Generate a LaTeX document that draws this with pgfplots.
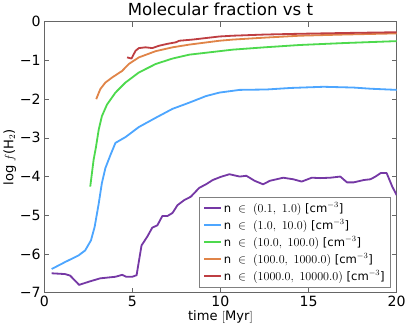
\documentclass[border=0pt]{standalone}
\usepackage{pgfplots}
\pgfplotsset{compat=1.18}
\usepackage{fontspec}
\setmainfont{DejaVu Sans}
\definecolor{cpur}{RGB}{117,56,165}
\definecolor{cblu}{RGB}{77,166,255}
\definecolor{cgrn}{RGB}{77,217,77}
\definecolor{cora}{RGB}{224,132,72}
\definecolor{cred}{RGB}{190,62,66}
\begin{document}
\begin{tikzpicture}
\begin{axis}[
  scale only axis, width=350pt, height=269pt,
  xmin=0, xmax=20, ymin=-7, ymax=0,
  xtick={0,5,10,15,20}, ytick={-7,-6,-5,-4,-3,-2,-1,0},
  yticklabels={−7,−6,−5,−4,−3,−2,−1,0},
  /pgf/number format/assume math mode=true,
  tick label style={font=\fontsize{14}{14}\selectfont},
  tick align=inside, tick pos=both,
  major tick length=5pt,
  axis line style={gray!80!black, line width=1pt},
  tick style={gray!80!black, line width=0.6pt},
  title={Molecular fraction vs t},
  title style={font=\fontsize{16.5}{17}\selectfont, yshift=-4pt},
  xlabel={time $[\mathrm{Myr}]$},
  ylabel={log $f$(H$_2$)},
  label style={font=\fontsize{13}{13}\selectfont},
  xlabel style={yshift=3pt},
  ylabel style={yshift=-3pt},
  legend style={at={(0.983,0.019)}, anchor=south east, draw=gray, line width=0.8pt,
     font=\fontsize{11.5}{13}\selectfont, row sep=2.8pt, inner sep=4pt,
     nodes={inner sep=1.5pt}},
  legend cell align=left,
  legend image code/.code={\draw[#1, line width=2pt] (0pt,0pt) -- (17pt,0pt);},
]
\addplot[cpur, line width=1.8pt, line join=round] coordinates {
(0.42,-6.50)(1.18,-6.52)(1.47,-6.56)(1.98,-6.80)(2.51,-6.72)(3.18,-6.63)(4.04,-6.59)
(4.42,-6.54)(4.65,-6.59)(4.99,-6.59)(5.24,-6.55)(5.52,-5.78)(5.85,-5.55)(6.13,-5.32)
(6.42,-5.26)(6.70,-5.02)(6.99,-5.02)(7.28,-4.94)(7.56,-4.74)(7.94,-4.61)(8.32,-4.52)
(8.80,-4.29)(9.18,-4.20)(9.56,-4.09)(10.0,-4.01)(10.51,-3.94)(11.09,-4.00)(11.47,-3.98)
(11.94,-4.11)(12.42,-4.20)(12.80,-4.11)(13.56,-4.03)(14.13,-4.07)(14.61,-4.13)(15.18,-4.03)
(15.66,-4.04)(16.23,-4.03)(16.80,-4.00)(17.18,-4.15)(17.56,-4.15)(18.13,-4.09)(18.51,-4.07)
(18.80,-4.00)(19.09,-3.91)(19.43,-3.91)(19.75,-4.26)(20.0,-4.48)};
\addlegendentry{n \;$\in$\; $(0.1,\ 1.0)$ [cm$^{-3}$]}
\addplot[cblu, line width=1.8pt, line join=round] coordinates {
(0.42,-6.39)(1.18,-6.21)(1.94,-6.04)(2.32,-5.91)(2.65,-5.65)(2.86,-5.30)(3.09,-4.70)
(3.27,-4.17)(3.47,-3.78)(3.75,-3.45)(4.04,-3.13)(4.61,-2.98)(5.37,-2.72)(6.33,-2.48)
(7.28,-2.25)(8.23,-2.09)(9.18,-1.92)(9.94,-1.83)(11.09,-1.76)(12.61,-1.75)(14.0,-1.71)
(15.85,-1.68)(17.56,-1.70)(18.51,-1.73)(20.0,-1.76)};
\addlegendentry{n \;$\in$\; $(1.0,\ 10.0)$ [cm$^{-3}$]}
\addplot[cgrn, line width=1.8pt, line join=round] coordinates {
(2.61,-4.26)(2.80,-3.57)(2.93,-3.25)(3.09,-2.79)(3.27,-2.44)(3.56,-2.14)(4.04,-1.83)
(4.61,-1.57)(5.37,-1.31)(6.33,-1.09)(7.28,-0.95)(8.23,-0.85)(9.94,-0.76)(10.7,-0.72)
(12.5,-0.66)(14.5,-0.60)(17.0,-0.55)(20.0,-0.50)};
\addlegendentry{n \;$\in$\; $(10.0,\ 100.0)$ [cm$^{-3}$]}
\addplot[cora, line width=1.8pt, line join=round] coordinates {
(2.95,-2.00)(3.18,-1.74)(3.47,-1.57)(3.85,-1.44)(4.42,-1.27)(4.80,-1.09)(5.37,-0.92)
(6.32,-0.76)(7.28,-0.66)(8.23,-0.59)(9.94,-0.49)(10.7,-0.46)(12.5,-0.41)(14.5,-0.36)
(17.0,-0.33)(20.0,-0.30)};
\addlegendentry{n \;$\in$\; $(100.0,\ 1000.0)$ [cm$^{-3}$]}
\addplot[cred, line width=1.8pt, line join=round] coordinates {
(4.70,-0.92)(4.95,-0.95)(5.18,-0.75)(5.37,-0.68)(5.75,-0.66)(6.13,-0.68)(6.51,-0.62)
(6.99,-0.57)(7.47,-0.53)(7.66,-0.49)(8.42,-0.46)(9.18,-0.42)(9.94,-0.38)(10.7,-0.36)
(12.5,-0.33)(14.5,-0.31)(17.0,-0.29)(20.0,-0.27)};
\addlegendentry{n \;$\in$\; $(1000.0,\ 10000.0)$ [cm$^{-3}$]}
\end{axis}
\end{tikzpicture}
\end{document}
